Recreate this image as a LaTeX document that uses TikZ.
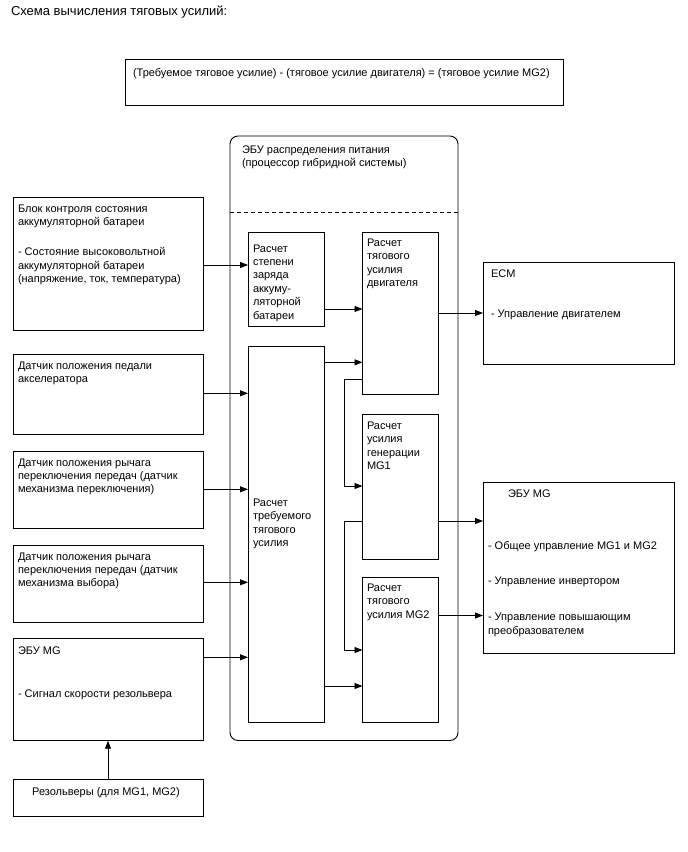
\documentclass[tikz,border=0pt]{standalone}
\usepackage{fontspec}
\setmainfont{Liberation Sans}
\usetikzlibrary{arrows.meta}
\begin{document}
\begin{tikzpicture}[x=1pt,y=-1pt,
  box/.style={draw, line width=0.9pt, inner sep=0pt, outer sep=0pt, anchor=north west},
  txt/.style={inner sep=0pt, outer sep=0pt, anchor=north west, align=left, font=\fontsize{11}{13.4}\selectfont},
  arr/.style={line width=0.9pt, -{Triangle[length=8pt,width=6pt]}},
  ln/.style={line width=0.9pt}]
\useasboundingbox (0,0) rectangle (688,852);
% title
\node[txt, font=\fontsize{13}{15}\selectfont] (title) at (11,6) {Схема вычисления тяговых усилий:};
% formula
\node[box, minimum width=438pt, minimum height=46.5pt] (form) at (125,59) {};
\node[txt] (formt) at (133,68.3) {(Требуемое тяговое усилие) - (тяговое усилие двигателя) = (тяговое усилие MG2)};
% big ECU box
\node[box, rounded corners=8pt, minimum width=228pt, minimum height=604.5pt] (ecu) at (230,136) {};
\node[txt, font=\fontsize{11}{12.5}\selectfont] (ecut) at (242,146) {ЭБУ распределения питания\\(процессор гибридной системы)};
\coordinate (dl) at (230,212);
\coordinate (dr) at (458,212);
\draw[ln, dash pattern=on 4pt off 3pt] (dl) -- (dr);
% left boxes
\node[box, minimum width=190pt, minimum height=133pt] (bat) at (13,197) {};
\node[txt] (batt) at (18,205) {Блок контроля состояния\\аккумуляторной батареи\\[16.6pt]- Состояние высоковольтной\\аккумуляторной батареи\\(напряжение, ток, температура)};
\node[box, minimum width=190pt, minimum height=80pt] (acc) at (13,354) {};
\node[txt] (acct) at (18,361.7) {Датчик положения педали\\акселератора};
\node[box, minimum width=190pt, minimum height=77.5pt] (shf) at (13,451) {};
\node[txt] (shft) at (18,458.5) {Датчик положения рычага\\переключения передач (датчик\\механизма переключения)};
\node[box, minimum width=190pt, minimum height=77pt] (sel) at (13,545) {};
\node[txt] (selt) at (18,552.5) {Датчик положения рычага\\переключения передач (датчик\\механизма выбора)};
\node[box, minimum width=190pt, minimum height=102.4pt] (mgl) at (13,638.3) {};
\node[txt] (mglt) at (18,646.5) {ЭБУ MG\\[29.9pt]- Сигнал скорости резольвера};
\node[box, minimum width=190pt, minimum height=37.4pt] (res) at (13,779.3) {};
\node[txt, anchor=center] (rest) at (106,793) {Резольверы (для MG1, MG2)};
% inner boxes
\node[box, minimum width=76pt, minimum height=94pt] (soc) at (248,232) {};
\node[txt] (soct) at (253,244.5) {Расчет\\степени\\заряда\\аккуму-\\ляторной\\батареи};
\node[box, minimum width=76pt, minimum height=162pt] (eng) at (362.5,232) {};
\node[txt] (engt) at (367,239) {Расчет\\тягового\\усилия\\двигателя};
\node[box, minimum width=76pt, minimum height=376pt] (dem) at (248,346) {};
\node[txt] (demt) at (253,499) {Расчет\\требуемого\\тягового\\усилия};
\node[box, minimum width=76pt, minimum height=145pt] (mga) at (362.5,414) {};
\node[txt] (mgat) at (367,421.7) {Расчет\\усилия\\генерации\\MG1};
\node[box, minimum width=76pt, minimum height=145pt] (mgb) at (362.5,577) {};
\node[txt] (mgbt) at (367,584) {Расчет\\тягового\\усилия MG2};
% right boxes
\node[box, minimum width=191pt, minimum height=102.3pt] (ecm) at (483,262) {};
\node[txt] (ecmt) at (491,270) {ECM\\[26.1pt]- Управление двигателем};
\node[box, minimum width=191pt, minimum height=170.3pt] (mgr) at (483,482.7) {};
\node[txt] (mgrh) at (508,490) {ЭБУ MG};
\node[txt] (mgrt) at (488,541) {- Общее управление MG1 и MG2\\[21.6pt]- Управление инвертором\\[23.3pt]- Управление повышающим\\преобразователем};
% levels
\coordinate (a1) at (0,265);
\coordinate (a2) at (0,309);
\coordinate (a3) at (0,393.3);
\coordinate (a4) at (0,489.3);
\coordinate (a5) at (0,582.3);
\coordinate (a6) at (0,657.3);
\coordinate (a7) at (0,362.3);
\coordinate (a8) at (0,379);
\coordinate (a9) at (0,486);
\coordinate (a10) at (0,521);
\coordinate (a11) at (0,650);
\coordinate (a12) at (0,686);
\coordinate (a13) at (0,313);
\coordinate (a14) at (0,615.5);
\coordinate (lx) at (344,0);
% connectors
\draw[arr] (bat.east |- a1) -- (soc.west |- a1);
\draw[arr] (soc.east |- a2) -- (eng.west |- a2);
\draw[arr] (acc.east |- a3) -- (dem.west |- a3);
\draw[arr] (shf.east |- a4) -- (dem.west |- a4);
\draw[arr] (sel.east |- a5) -- (dem.west |- a5);
\draw[arr] (mgl.east |- a6) -- (dem.west |- a6);
\draw[arr] (res.north) -- (mgl.south);
\draw[arr] (dem.east |- a7) -- (eng.west |- a7);
\draw[arr] (eng.west |- a8) -- (lx |- a8) -- (lx |- a9) -- (mga.west |- a9);
\draw[arr] (mga.west |- a10) -- (lx |- a10) -- (lx |- a11) -- (mgb.west |- a11);
\draw[arr] (dem.east |- a12) -- (mgb.west |- a12);
\draw[arr] (eng.east |- a13) -- (ecm.west |- a13);
\draw[arr] (mga.east |- a10) -- (mgr.west |- a10);
\draw[arr] (mgb.east |- a14) -- (mgr.west |- a14);
\end{tikzpicture}
\end{document}
